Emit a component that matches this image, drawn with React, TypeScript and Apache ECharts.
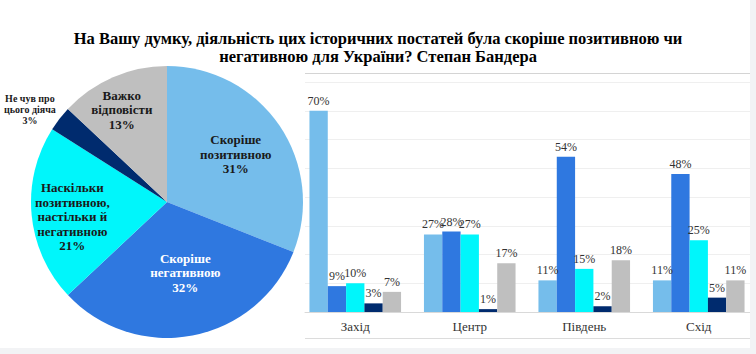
import React, { useEffect, useRef } from "react";
import * as echarts from "echarts";

const titleLines = [
  "На Вашу думку, діяльність цих історичних постатей була скоріше позитивною чи",
  "негативною для України? Степан Бандера",
];

const answers = [
  "Скоріше позитивною",
  "Скоріше негативною",
  "Наскільки позитивною, настільки й негативною",
  "Не чув про цього діяча",
  "Важко відповісти",
];
const pieLabelLines = [
  ["Скоріше", "позитивною"],
  ["Скоріше", "негативною"],
  ["Наскільки", "позитивною,", "настільки й", "негативною"],
  ["Не чув про", "цього діяча"],
  ["Важко", "відповісти"],
];
const pieValues = [31, 32, 21, 3, 13];

const regions = ["Захід", "Центр", "Південь", "Схід"];
const positiveByRegion = [70, 27, 11, 11];
const negativeByRegion = [9, 28, 54, 48];
const bothByRegion = [10, 27, 15, 25];
const notHeardByRegion = [3, 1, 2, 5];
const hardToSayByRegion = [7, 17, 18, 11];

const colors = ["#75BDEB", "#2F78E0", "#00F6FB", "#002B6E", "#BFBFBF"];
const pieLabelColors = ["#1a1a1a", "#ffffff", "#1a1a1a", "#1a1a1a", "#1a1a1a"];
const pieLabelShift = [
  [10, -8],
  [5, 1],
  [-24, 8],
  [-81, -49],
  [-17, -27],
];

const SERIF = "Liberation Serif";

export default function App() {
  const ref = useRef<HTMLDivElement>(null);
  useEffect(() => {
    if (!ref.current) return;
    const chart = echarts.init(ref.current, undefined, { renderer: "svg" });
    const barData = [
      positiveByRegion,
      negativeByRegion,
      bothByRegion,
      notHeardByRegion,
      hardToSayByRegion,
    ];
    chart.setOption({
      animation: false,
      backgroundColor: "#ffffff",
      textStyle: { fontFamily: SERIF },
      title: {
        text: titleLines.join("\n"),
        left: "center",
        top: 29,
        padding: 0,
        textStyle: {
          fontFamily: SERIF,
          fontWeight: "bold",
          fontSize: 16.5,
          lineHeight: 18,
          color: "#000000",
        },
      },
      grid: [
        { left: 298, right: -3, top: 82, bottom: 42 },
        { left: 305, right: 6, top: 82, bottom: 42 },
      ],
      xAxis: [
        {
          type: "category",
          gridIndex: 0,
          data: regions,
          axisLine: { show: false },
          axisTick: { show: false },
          axisLabel: {
            fontFamily: SERIF,
            fontSize: 13,
            color: "#333333",
            margin: 8,
          },
        },
        {
          type: "value",
          gridIndex: 1,
          min: 0,
          max: 1,
          axisLine: { show: true, lineStyle: { color: "#d9d9d9", width: 1 } },
          axisTick: { show: false },
          axisLabel: { show: false },
          splitLine: { show: false },
        },
      ],
      yAxis: [
        {
          type: "value",
          gridIndex: 0,
          min: 0,
          max: 80,
          interval: 10,
          show: false,
          splitLine: { show: false },
        },
        {
          type: "value",
          gridIndex: 1,
          min: 0,
          max: 80,
          interval: 10,
          axisLine: { show: false },
          axisTick: { show: false },
          axisLabel: { show: false },
          splitLine: { show: true, lineStyle: { color: "#efefef", width: 1 } },
        },
      ],
      series: [
        ...answers.map((name, i) => ({
          type: "bar",
          name,
          xAxisIndex: 0,
          yAxisIndex: 0,
          data: barData[i],
          barGap: "0%",
          barCategoryGap: "20%",
          itemStyle: { color: colors[i] },
          label: {
            show: true,
            position: "top",
            distance: 4,
            formatter: "{c}%",
            fontFamily: SERIF,
            fontSize: 12,
            color: "#333333",
          },
        })),
        {
          type: "pie",
          center: [167, 202],
          radius: 136,
          startAngle: 90,
          clockwise: true,
          avoidLabelOverlap: false,
          data: answers.map((name, i) => ({
            name,
            value: pieValues[i],
            itemStyle: { color: colors[i] },
            label: {
              color: pieLabelColors[i],
              fontSize: i === 3 ? 10 : 13,
              lineHeight: i === 3 ? 11 : 14.5,
            },
          })),
          label: {
            show: true,
            position: "inside",
            fontFamily: SERIF,
            fontWeight: "bold",
            align: "center",
            formatter: (p: any) =>
              pieLabelLines[p.dataIndex].join("\n") + "\n" + p.value + "%",
          },
          labelLine: { show: false },
          labelLayout: (p: any) => ({
            dx: pieLabelShift[p.dataIndex][0],
            dy: pieLabelShift[p.dataIndex][1],
          }),
          emphasis: { disabled: true },
        },
      ],
      graphic: [
        {
          type: "line",
          shape: { x1: 305, y1: 73.5, x2: 750, y2: 73.5 },
          style: { stroke: "#d4d4d4", lineWidth: 1 },
          z: 1,
        },
        {
          type: "line",
          shape: { x1: 305, y1: 338.5, x2: 750, y2: 338.5 },
          style: { stroke: "#dcdcdc", lineWidth: 1 },
          z: 1,
        },
        {
          type: "rect",
          shape: { x: 750, y: 0, width: 6, height: 354 },
          style: { fill: "#f2f3f5" },
          z: 100,
        },
        {
          type: "rect",
          shape: { x: 0, y: 348, width: 756, height: 6 },
          style: { fill: "#f2f3f5" },
          z: 100,
        },
      ],
    });
    return () => chart.dispose();
  }, []);
  return (
    <div
      ref={ref}
      style={{ position: "fixed", left: 0, top: 0, width: 756, height: 354, background: "#fff" }}
    />
  );
}
